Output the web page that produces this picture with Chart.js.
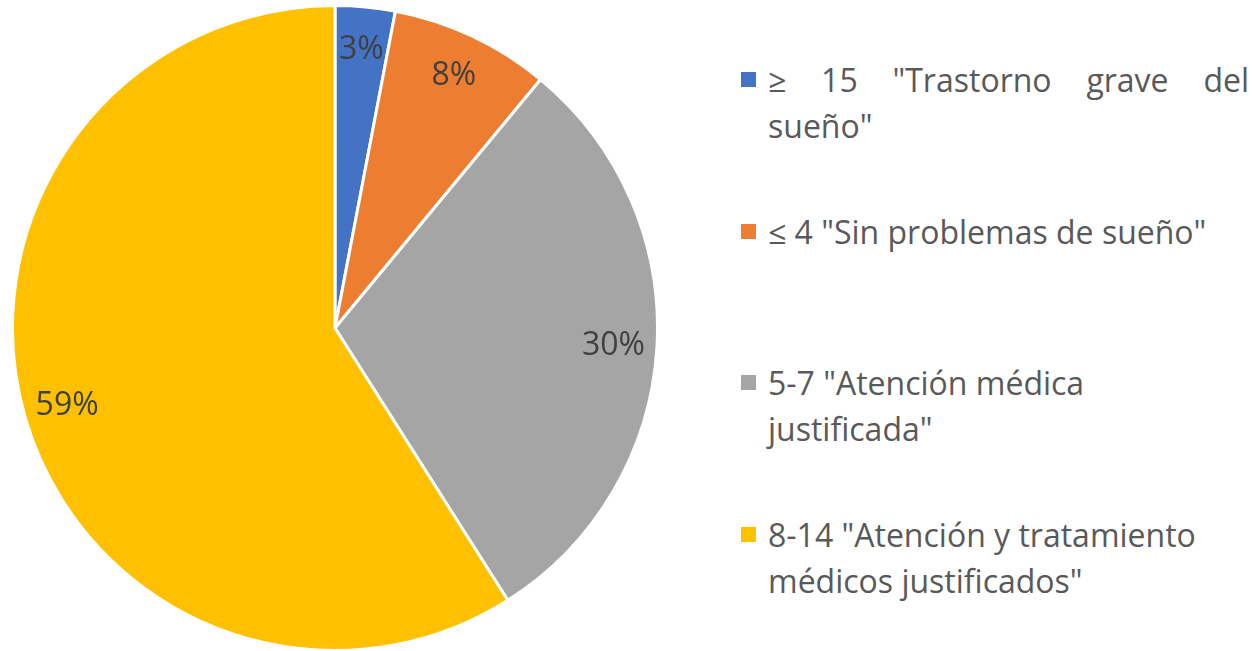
<!DOCTYPE html>
<html lang="es">
<head>
  <meta charset="utf-8">
  <script src="https://cdn.jsdelivr.net/npm/chart.js@4.4.1/dist/chart.umd.min.js"></script>
  <style>
    html, body {
      margin: 0;
      padding: 0;
      width: 1252px;
      height: 651px;
      overflow: hidden;
      background: #ffffff;
      font-family: 'Open Sans', sans-serif;
    }
    .pie-box {
      position: absolute;
      left: 11px;
      top: 4px;
      width: 648px;
      height: 648px;
    }
    .legend {
      position: absolute;
      left: 741px;
      top: 0;
      width: 511px;
      color: #595959;
      font-size: 32px;
    }
    .legend-item {
      position: absolute;
      left: 0;
      width: 508px;
    }
    .legend-item .swatch {
      position: absolute;
      left: 0;
      top: 15px;
      width: 15px;
      height: 15px;
    }
    .legend-item .line {
      margin-left: 27px;
      height: 46px;
      line-height: 46px;
      white-space: nowrap;
    }
    .legend-item .line.just {
      text-align: justify;
      text-align-last: justify;
      white-space: normal;
    }
    .legend-item:nth-child(1) { top: 57px; }
    .legend-item:nth-child(2) { top: 209px; }
    .legend-item:nth-child(3) { top: 360px; }
    .legend-item:nth-child(4) { top: 512px; }
  </style>
</head>
<body>
  <div class="pie-box">
    <canvas id="pieChart"></canvas>
  </div>
  <div class="legend" id="legend"></div>

  <script>
    // etiquetas del legend (una entrada por linea)
    const categories = [
      ['≥ 15 "Trastorno grave del', 'sueño"'],
      ['≤ 4 "Sin problemas de sueño"'],
      ['5-7 "Atención médica', 'justificada"'],
      ['8-14 "Atención y tratamiento', 'médicos justificados"']
    ];
    const percentages = [3, 8, 30, 59];
    const sliceColors = ['#4472C4', '#ED7D31', '#A5A5A5', '#FFC000'];

    // etiquetas de porcentaje dentro de cada sector
    const pctLabels = {
      id: 'pctLabels',
      afterDatasetsDraw(chart) {
        const ctx = chart.ctx;
        const meta = chart.getDatasetMeta(0);
        ctx.save();
        ctx.font = '32px "Open Sans", sans-serif';
        ctx.fillStyle = '#404040';
        ctx.textAlign = 'center';
        ctx.textBaseline = 'middle';
        meta.data.forEach((arc, i) => {
          const p = arc.getProps(['x', 'y', 'startAngle', 'endAngle', 'outerRadius'], true);
          const mid = (p.startAngle + p.endAngle) / 2;
          const r = p.outerRadius * 0.865;
          ctx.fillText(percentages[i] + '%', p.x + Math.cos(mid) * r, p.y + Math.sin(mid) * r);
        });
        ctx.restore();
      }
    };

    new Chart(document.getElementById('pieChart'), {
      type: 'pie',
      data: {
        labels: categories,
        datasets: [{
          data: percentages,
          backgroundColor: sliceColors,
          borderColor: '#ffffff',
          borderWidth: 3
        }]
      },
      options: {
        responsive: true,
        maintainAspectRatio: false,
        animation: false,
        layout: { padding: 0 },
        plugins: {
          legend: { display: false },
          tooltip: { enabled: false }
        }
      },
      plugins: [pctLabels]
    });

    // legend en HTML
    const legendEl = document.getElementById('legend');
    categories.forEach((lines, i) => {
      const item = document.createElement('div');
      item.className = 'legend-item';
      const sw = document.createElement('div');
      sw.className = 'swatch';
      sw.style.background = sliceColors[i];
      item.appendChild(sw);
      lines.forEach((txt, j) => {
        const ln = document.createElement('div');
        ln.className = 'line' + (i === 0 && j === 0 ? ' just' : '');
        ln.textContent = txt;
        item.appendChild(ln);
      });
      legendEl.appendChild(item);
    });
  </script>
</body>
</html>
